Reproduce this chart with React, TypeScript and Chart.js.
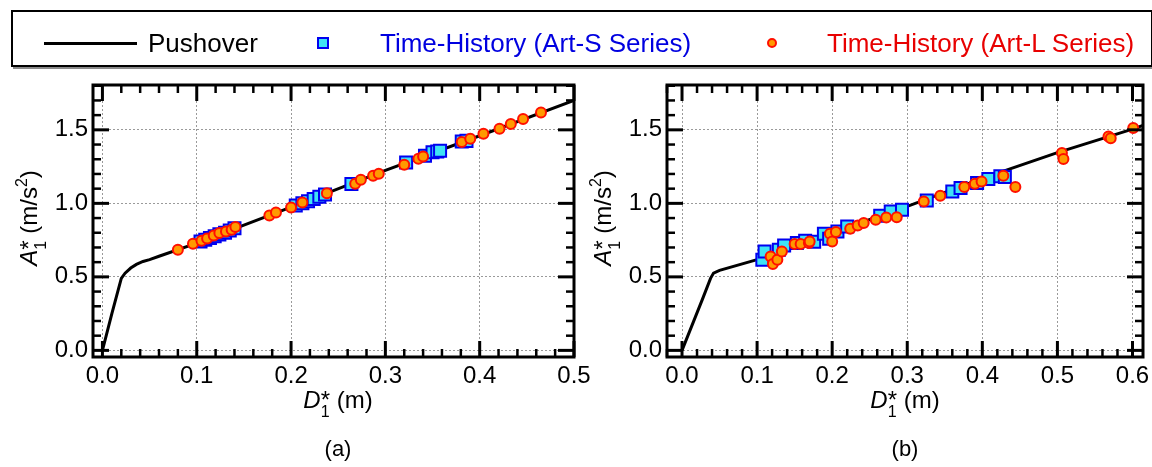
import React, { useEffect, useRef } from 'react';
import { Chart, registerables } from 'chart.js';
Chart.register(...registerables);

const FONT = "'Liberation Sans', Arial, sans-serif";

// ---------- Panel (a) ----------
const pushoverAX = [0, 0.01, 0.02, 0.024, 0.03, 0.036, 0.043, 0.05, 0.06, 0.1, 0.2, 0.3, 0.4, 0.5];
const pushoverAY = [0, 0.25, 0.49, 0.525, 0.56, 0.585, 0.605, 0.617, 0.64, 0.73, 0.975, 1.225, 1.46, 1.7];

const artSAX = [0.104, 0.109, 0.114, 0.119, 0.124, 0.13, 0.135, 0.14, 0.205, 0.212, 0.218, 0.224, 0.23, 0.236, 0.264, 0.322, 0.342, 0.35, 0.355, 0.358, 0.381, 0.386];
const artSAY = [0.74, 0.752, 0.764, 0.777, 0.789, 0.8, 0.815, 0.83, 0.985, 1.0, 1.015, 1.03, 1.045, 1.06, 1.132, 1.278, 1.324, 1.347, 1.352, 1.358, 1.42, 1.425];

const artLAX = [0.08, 0.096, 0.105, 0.111, 0.118, 0.124, 0.131, 0.137, 0.141, 0.177, 0.184, 0.2, 0.212, 0.238, 0.268, 0.274, 0.287, 0.293, 0.32, 0.335, 0.34, 0.381, 0.39, 0.404, 0.421, 0.433, 0.446, 0.465];
const artLAY = [0.685, 0.725, 0.746, 0.761, 0.782, 0.798, 0.809, 0.82, 0.839, 0.918, 0.938, 0.972, 1.006, 1.068, 1.133, 1.16, 1.188, 1.202, 1.262, 1.303, 1.319, 1.417, 1.439, 1.473, 1.507, 1.539, 1.573, 1.618];

// ---------- Panel (b) ----------
const pushoverBX = [0, 0.027, 0.038, 0.042, 0.05, 0.1, 0.2, 0.3, 0.4, 0.5, 0.6, 0.614];
const pushoverBY = [0, 0.345, 0.49, 0.526, 0.544, 0.617, 0.8, 0.98, 1.17, 1.345, 1.505, 1.53];

const artSBX = [0.107, 0.11, 0.129, 0.136, 0.153, 0.164, 0.176, 0.189, 0.196, 0.207, 0.22, 0.264, 0.278, 0.293, 0.326, 0.36, 0.371, 0.393, 0.408, 0.424, 0.43];
const artSBY = [0.617, 0.673, 0.684, 0.714, 0.73, 0.746, 0.739, 0.793, 0.759, 0.809, 0.843, 0.916, 0.945, 0.957, 1.02, 1.081, 1.104, 1.138, 1.165, 1.184, 1.18];

const artLBX = [0.118, 0.121, 0.127, 0.133, 0.15, 0.158, 0.169, 0.17, 0.197, 0.2, 0.205, 0.224, 0.234, 0.242, 0.258, 0.272, 0.286, 0.322, 0.344, 0.376, 0.39, 0.399, 0.428, 0.444, 0.506, 0.508, 0.568, 0.571, 0.601];
const artLBY = [0.639, 0.587, 0.617, 0.673, 0.723, 0.723, 0.73, 0.741, 0.793, 0.741, 0.805, 0.827, 0.85, 0.866, 0.889, 0.904, 0.906, 1.013, 1.052, 1.111, 1.133, 1.149, 1.188, 1.111, 1.342, 1.301, 1.455, 1.443, 1.512];

// ---------- ticks ----------
const xTicksA = [0, 0.1, 0.2, 0.3, 0.4, 0.5];
const xTicksB = [0, 0.1, 0.2, 0.3, 0.4, 0.5, 0.6];
const yTicks = [0, 0.5, 1.0, 1.5];

const legendLabels = ['Pushover', 'Time-History (Art-S Series)', 'Time-History (Art-L Series)'];

const S_FILL = '#3fe3f5';
const S_EDGE = '#0000f0';
const L_FILL = '#ff9a00';
const L_EDGE = '#ff1000';

const TICK_FONT = 24;
const TITLE_FONT = 24;

function minorTicks(min: number, max: number, step: number, majors: number[]) {
  const out: number[] = [];
  const k0 = Math.ceil(min / step - 1e-6);
  const k1 = Math.floor(max / step + 1e-6);
  for (let k = k0; k <= k1; k++) {
    const v = +(k * step).toFixed(6);
    if (!majors.some((m) => Math.abs(m - v) < 1e-6)) out.push(v);
  }
  return out;
}

const frameTicksPlugin = {
  id: 'frameTicks',
  afterDatasetsDraw(chart: any, _args: any, opts: any) {
    const { ctx, chartArea: a, scales } = chart;
    const xs = scales.x;
    const ys = scales.y;
    const MAJ = 16;
    const MIN = 8;
    ctx.save();
    ctx.strokeStyle = '#000';
    ctx.lineCap = 'butt';
    const seg = (x1: number, y1: number, x2: number, y2: number, w: number) => {
      ctx.lineWidth = w;
      ctx.beginPath();
      ctx.moveTo(x1, y1);
      ctx.lineTo(x2, y2);
      ctx.stroke();
    };
    const xMin = minorTicks(xs.min, xs.max, 0.02, opts.xMajor);
    const yMin = minorTicks(ys.min, ys.max, 0.1, opts.yMajor);
    for (const v of xMin) {
      const p = xs.getPixelForValue(v);
      seg(p, a.bottom, p, a.bottom - MIN, 2.5);
      seg(p, a.top, p, a.top + MIN, 2.5);
    }
    for (const v of opts.xMajor) {
      const p = xs.getPixelForValue(v);
      seg(p, a.bottom, p, a.bottom - MAJ, 3);
      seg(p, a.top, p, a.top + MAJ, 3);
    }
    for (const v of yMin) {
      const p = ys.getPixelForValue(v);
      seg(a.left, p, a.left + MIN, p, 2.5);
      seg(a.right, p, a.right - MIN, p, 2.5);
    }
    for (const v of opts.yMajor) {
      const p = ys.getPixelForValue(v);
      seg(a.left, p, a.left + MAJ, p, 3);
      seg(a.right, p, a.right - MAJ, p, 3);
    }
    ctx.lineWidth = 3;
    ctx.strokeRect(a.left, a.top, a.right - a.left, a.bottom - a.top);
    ctx.restore();
  },
};

type Seg = { t: string; size?: number; italic?: boolean; dy?: number };

function drawGroups(ctx: CanvasRenderingContext2D, groups: Seg[][], x: number, y: number, base: number) {
  const fontOf = (s: Seg) => `${s.italic ? 'italic ' : ''}${s.size ?? base}px ${FONT}`;
  const widths = groups.map((g) =>
    Math.max(...g.map((s) => {
      ctx.font = fontOf(s);
      return ctx.measureText(s.t).width;
    }))
  );
  const total = widths.reduce((p, c) => p + c, 0);
  let cx = x - total / 2;
  ctx.textAlign = 'left';
  ctx.textBaseline = 'alphabetic';
  groups.forEach((g, i) => {
    g.forEach((s) => {
      ctx.font = fontOf(s);
      ctx.fillText(s.t, cx, y + (s.dy ?? 0));
    });
    cx += widths[i];
  });
}

const xTitleGroups: Seg[][] = [[{ t: 'D', italic: true }], [{ t: '1', size: 16, dy: 9 }, { t: '*' }], [{ t: ' (m)' }]];
const yTitleGroups: Seg[][] = [[{ t: 'A', italic: true }], [{ t: '1', size: 16, dy: 9 }, { t: '*' }], [{ t: ' (m/s' }], [{ t: '2', size: 16, dy: -10 }], [{ t: ')' }]];

const titlesPlugin = {
  id: 'richTitles',
  afterDraw(chart: any, _args: any, opts: any) {
    const ctx = chart.ctx as CanvasRenderingContext2D;
    ctx.save();
    ctx.fillStyle = '#000';
    drawGroups(ctx, xTitleGroups, opts.xTitleX, opts.xTitleY, TITLE_FONT);
    ctx.font = `22px ${FONT}`;
    ctx.textAlign = 'center';
    ctx.textBaseline = 'alphabetic';
    ctx.fillText(opts.caption, opts.xTitleX, opts.captionY);
    ctx.save();
    ctx.translate(opts.yTitleX, opts.yTitleY);
    ctx.rotate(-Math.PI / 2);
    drawGroups(ctx, yTitleGroups, 0, 0, TITLE_FONT);
    ctx.restore();
    ctx.restore();
  },
};

type Panel = {
  lineX: number[]; lineY: number[];
  sX: number[]; sY: number[];
  lX: number[]; lY: number[];
  xTicks: number[];
  xMin: number; xMax: number;
  yAxisWidth: number; padRight: number;
  caption: string;
  xTitleX: number; yTitleX: number;
};

const pts = (xs: number[], ys: number[]) => xs.map((x, i) => ({ x, y: ys[i] }));

function buildChart(canvas: HTMLCanvasElement, p: Panel) {
  return new Chart(canvas, {
    type: 'scatter',
    data: {
      datasets: [
        {
          label: legendLabels[2],
          data: pts(p.lX, p.lY),
          pointStyle: 'circle',
          pointRadius: 5,
          pointBorderWidth: 2,
          backgroundColor: L_FILL,
          borderColor: L_EDGE,
          order: 1,
        },
        {
          label: legendLabels[1],
          data: pts(p.sX, p.sY),
          pointStyle: 'rect',
          pointRadius: 8.5,
          pointBorderWidth: 2,
          backgroundColor: S_FILL,
          borderColor: S_EDGE,
          order: 2,
        },
        {
          label: legendLabels[0],
          data: pts(p.lineX, p.lineY),
          showLine: true,
          pointRadius: 0,
          borderColor: '#000',
          borderWidth: 3,
          fill: false,
          order: 3,
        },
      ],
    } as any,
    options: {
      animation: false,
      responsive: false,
      maintainAspectRatio: false,
      devicePixelRatio: 1,
      events: [],
      layout: { padding: { left: 0, right: p.padRight, top: 30, bottom: 70 } },
      plugins: {
        legend: { display: false },
        tooltip: { enabled: false },
        frameTicks: { xMajor: p.xTicks, yMajor: yTicks },
        richTitles: {
          caption: p.caption,
          xTitleX: p.xTitleX,
          xTitleY: 353,
          captionY: 401,
          yTitleX: p.yTitleX,
          yTitleY: 163,
        },
      } as any,
      scales: {
        x: {
          type: 'linear',
          min: p.xMin,
          max: p.xMax,
          afterBuildTicks: (s: any) => {
            s.ticks = p.xTicks.map((v) => ({ value: v }));
          },
          afterFit: (s: any) => {
            s.height = 40;
          },
          grid: { color: '#9a9a9a', lineWidth: 1, drawTicks: false },
          border: { display: false, dash: [2, 2] },
          ticks: {
            font: { family: FONT, size: TICK_FONT },
            color: '#000',
            padding: 5,
            maxRotation: 0,
            autoSkip: false,
            callback: (v: any) => Number(v).toFixed(1),
          },
        },
        y: {
          type: 'linear',
          min: -0.045,
          max: 1.805,
          afterBuildTicks: (s: any) => {
            s.ticks = yTicks.map((v) => ({ value: v }));
          },
          afterFit: (s: any) => {
            s.width = p.yAxisWidth;
          },
          grid: { color: '#9a9a9a', lineWidth: 1, drawTicks: false },
          border: { display: false, dash: [2, 2] },
          ticks: {
            font: { family: FONT, size: TICK_FONT },
            color: '#000',
            padding: 5,
            autoSkip: false,
            callback: (v: any) => Number(v).toFixed(1),
          },
        },
      } as any,
    },
    plugins: [frameTicksPlugin, titlesPlugin],
  });
}

const panelA: Panel = {
  lineX: pushoverAX, lineY: pushoverAY,
  sX: artSAX, sY: artSAY, lX: artLAX, lY: artLAY,
  xTicks: xTicksA, xMin: -0.01, xMax: 0.5,
  yAxisWidth: 93, padRight: 26, caption: '(a)',
  xTitleX: 338, yTitleX: 37,
};

const panelB: Panel = {
  lineX: pushoverBX, lineY: pushoverBY,
  sX: artSBX, sY: artSBY, lX: artLBX, lY: artLBY,
  xTicks: xTicksB, xMin: -0.02, xMax: 0.614,
  yAxisWidth: 87, padRight: 27, caption: '(b)',
  xTitleX: 325, yTitleX: 31,
};

function ChartCanvas({ panel, left, width }: { panel: Panel; left: number; width: number }) {
  const ref = useRef<HTMLCanvasElement>(null);
  useEffect(() => {
    if (!ref.current) return;
    const c = buildChart(ref.current, panel);
    return () => c.destroy();
  }, [panel]);
  return (
    <canvas
      ref={ref}
      width={width}
      height={412}
      style={{ position: 'absolute', left, top: 55, width, height: 412 }}
    />
  );
}

export default function App() {
  const textStyle: React.CSSProperties = {
    position: 'absolute',
    top: 30,
    fontFamily: FONT,
    fontSize: 26,
    lineHeight: '26px',
    whiteSpace: 'nowrap',
  };
  return (
    <div
      style={{
        position: 'absolute',
        left: 0,
        top: 0,
        width: 1152,
        height: 467,
        overflow: 'hidden',
        background: '#fff',
      }}
    >
      <ChartCanvas panel={panelA} left={0} width={600} />
      <ChartCanvas panel={panelB} left={580} width={590} />
      <div
        style={{
          position: 'absolute',
          left: 11,
          top: 10,
          width: 1142,
          height: 57,
          border: '2px solid #000',
          boxShadow: '2px 2px 0 #8a8a8a',
          boxSizing: 'border-box',
          background: '#fff',
        }}
      />
      <div style={{ position: 'absolute', left: 44, top: 42, width: 93, height: 3, background: '#000' }} />
      <div style={{ ...textStyle, left: 148, color: '#000' }}>{legendLabels[0]}</div>
      <div
        style={{
          position: 'absolute',
          left: 317,
          top: 37,
          width: 12,
          height: 12,
          boxSizing: 'border-box',
          border: `2px solid ${S_EDGE}`,
          background: S_FILL,
        }}
      />
      <div style={{ ...textStyle, left: 380, color: '#0000e0' }}>{legendLabels[1]}</div>
      <div
        style={{
          position: 'absolute',
          left: 767,
          top: 38,
          width: 10,
          height: 10,
          boxSizing: 'border-box',
          borderRadius: '50%',
          border: `2px solid ${L_EDGE}`,
          background: L_FILL,
        }}
      />
      <div style={{ ...textStyle, left: 827, color: '#e80000' }}>{legendLabels[2]}</div>
    </div>
  );
}
